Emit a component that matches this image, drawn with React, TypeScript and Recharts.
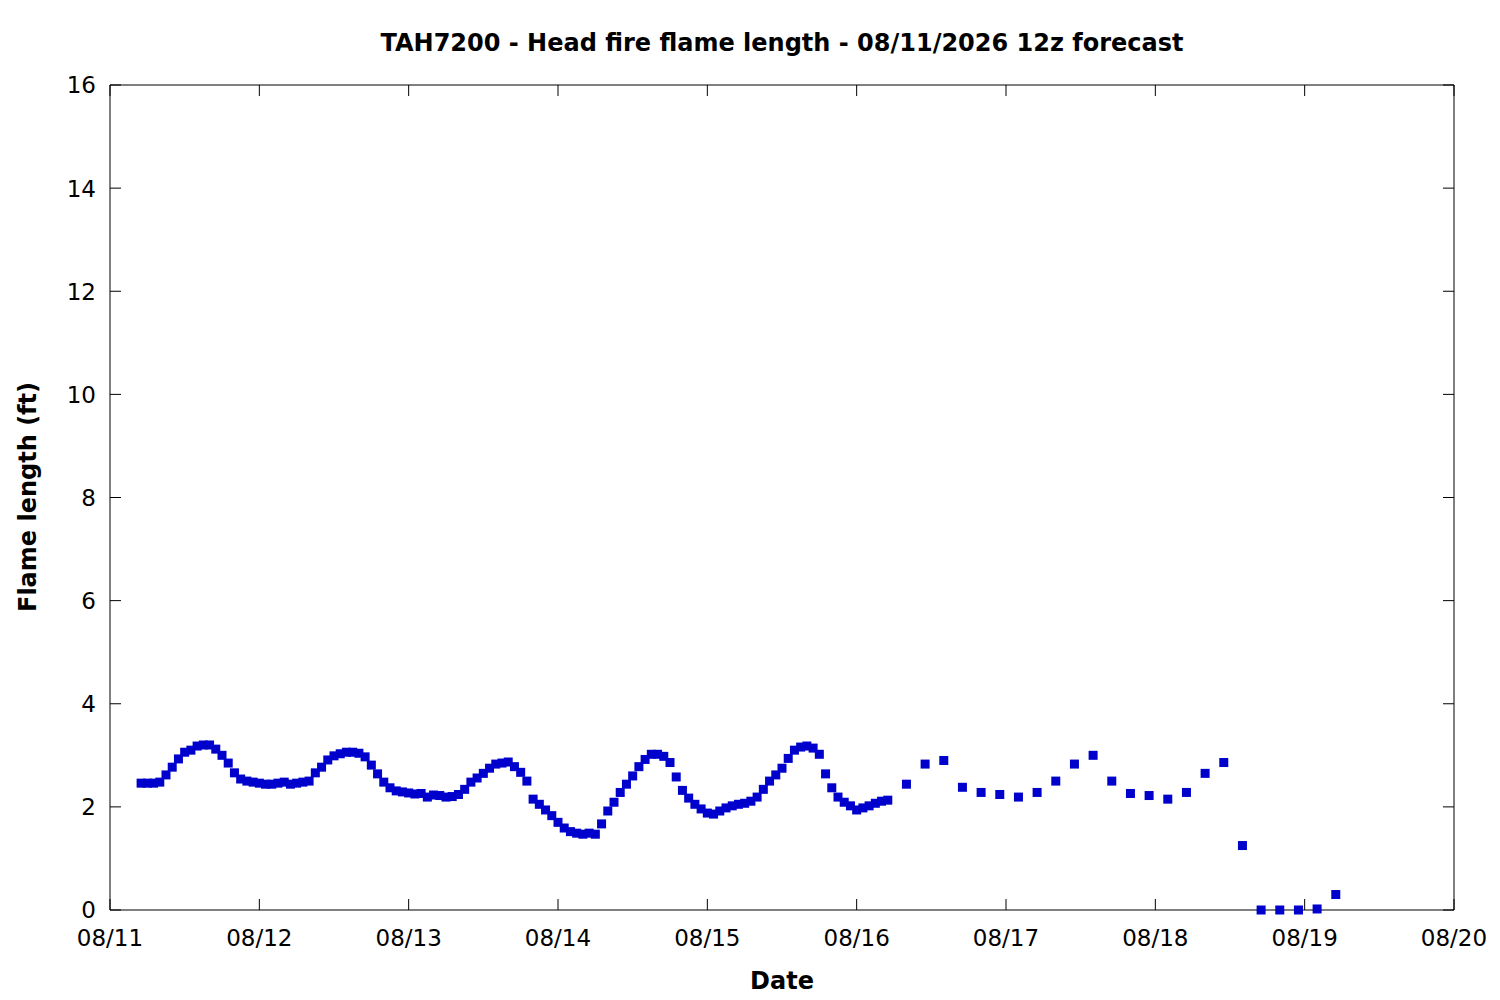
import { ScatterChart, Scatter, XAxis, YAxis } from 'recharts';

// hours counted from 08/11 00:00 local
const hourlyStart = 5;
const hourlyFlame = [
  2.46, 2.46, 2.46, 2.48, 2.62, 2.77, 2.93, 3.06, 3.1, 3.18, 3.2, 3.2,
  3.12, 3.0, 2.85, 2.66, 2.54, 2.5, 2.48, 2.46, 2.44, 2.44, 2.46, 2.48,
  2.44, 2.46, 2.48, 2.5, 2.66, 2.77, 2.91, 2.99, 3.03, 3.06, 3.06, 3.04,
  2.97, 2.81, 2.64, 2.48, 2.37, 2.31, 2.29, 2.27, 2.25, 2.26, 2.19, 2.23,
  2.22, 2.19, 2.2, 2.24, 2.34, 2.48, 2.56, 2.65, 2.75, 2.83, 2.85, 2.87,
  2.78, 2.67, 2.5, 2.15, 2.05, 1.94, 1.83, 1.7, 1.59, 1.52, 1.49, 1.47,
  1.49, 1.47, 1.67, 1.92, 2.09, 2.28, 2.44, 2.6, 2.78, 2.92, 3.02, 3.02,
  2.98, 2.86, 2.58, 2.32, 2.17, 2.05, 1.96, 1.88, 1.86, 1.92, 1.98, 2.02,
  2.05, 2.07, 2.11, 2.19, 2.34, 2.5, 2.62, 2.75, 2.94, 3.1, 3.16, 3.18,
  3.14, 3.02, 2.64, 2.37, 2.19, 2.09, 2.02, 1.94, 1.98, 2.02, 2.07, 2.11,
  2.13,
];
const threeHourStart = 128;
const threeHourFlame = [
  2.44, 2.83, 2.9, 2.38, 2.28, 2.24, 2.19, 2.28, 2.5, 2.83, 3.0, 2.5,
  2.26, 2.22, 2.15, 2.28, 2.65, 2.86, 1.25, 0, 0, 0, 0.02, 0.3,
];
const dayLabels = ['08/11', '08/12', '08/13', '08/14', '08/15', '08/16', '08/17', '08/18', '08/19', '08/20'];
const yTicks = [0, 2, 4, 6, 8, 10, 12, 14, 16];

const data = [
  ...hourlyFlame.map((v, i) => ({ t: hourlyStart + i, flame: v })),
  ...threeHourFlame.map((v, i) => ({ t: threeHourStart + 3 * i, flame: v })),
];
const xTicks = dayLabels.map((_, i) => i * 24);

const W = 1500;
const H = 1000;
const FONT = '"DejaVu Sans", sans-serif';
const TICK = 11;
const BLUE = '#0000cc';

function BottomTick(props: any) {
  const { x, y, payload } = props;
  return (
    <g>
      <line x1={x} x2={x} y1={y} y2={y - TICK} stroke="#000" />
      <text x={x} y={y + 36} textAnchor="middle" fontSize={23} fontFamily={FONT} fill="#000">
        {dayLabels[xTicks.indexOf(payload.value)]}
      </text>
    </g>
  );
}

function TopTick(props: any) {
  const { x, y } = props;
  return <line x1={x} x2={x} y1={y} y2={y + TICK} stroke="#000" />;
}

function LeftTick(props: any) {
  const { x, y, payload } = props;
  return (
    <g>
      <line x1={x} x2={x + TICK} y1={y} y2={y} stroke="#000" />
      <text x={x - 14} y={y + 8.4} textAnchor="end" fontSize={23} fontFamily={FONT} fill="#000">
        {payload.value}
      </text>
    </g>
  );
}

function RightTick(props: any) {
  const { x, y } = props;
  return <line x1={x} x2={x - TICK} y1={y} y2={y} stroke="#000" />;
}

function Square(props: any) {
  const { cx, cy } = props;
  return <rect x={cx - 4.5} y={cy - 4.5} width={9} height={9} fill={BLUE} />;
}

export default function App() {
  const axisLine = { stroke: '#000', strokeWidth: 1 };
  return (
    <div style={{ position: 'absolute', left: 0, top: 0, width: W, height: H, background: '#fff' }}>
      <ScatterChart width={W} height={H} margin={{ top: 84, right: 45, bottom: 0, left: 0 }}>
        <XAxis
          xAxisId="bottom"
          type="number"
          dataKey="t"
          domain={[0, 216]}
          ticks={xTicks}
          height={90}
          axisLine={axisLine}
          tickLine={false}
          tickSize={0}
          tickMargin={0}
          tick={<BottomTick />}
          interval={0}
        />
        <XAxis
          xAxisId="top"
          orientation="top"
          type="number"
          dataKey="t"
          domain={[0, 216]}
          ticks={xTicks}
          height={1}
          axisLine={axisLine}
          tickLine={false}
          tickSize={0}
          tickMargin={0}
          tick={<TopTick />}
          interval={0}
        />
        <YAxis
          yAxisId="left"
          type="number"
          dataKey="flame"
          domain={[0, 16]}
          ticks={yTicks}
          width={110}
          axisLine={axisLine}
          tickLine={false}
          tickSize={0}
          tickMargin={0}
          tick={<LeftTick />}
          interval={0}
        />
        <YAxis
          yAxisId="right"
          orientation="right"
          type="number"
          dataKey="flame"
          domain={[0, 16]}
          ticks={yTicks}
          width={1}
          axisLine={axisLine}
          tickLine={false}
          tickSize={0}
          tickMargin={0}
          tick={<RightTick />}
          interval={0}
        />
        <Scatter
          xAxisId="top"
          yAxisId="right"
          data={data}
          shape={() => <g />}
          isAnimationActive={false}
        />
        <Scatter
          xAxisId="bottom"
          yAxisId="left"
          data={data}
          fill={BLUE}
          shape={<Square />}
          isAnimationActive={false}
        />
      </ScatterChart>
      <svg
        width={W}
        height={H}
        style={{ position: 'absolute', left: 0, top: 0, pointerEvents: 'none' }}
        fontFamily={FONT}
        fontWeight="bold"
      >
        <text x={782} y={51} textAnchor="middle" fontSize={24}>
          TAH7200 - Head fire flame length - 08/11/2026 12z forecast
        </text>
        <text x={36} y={497} textAnchor="middle" fontSize={24} transform="rotate(-90 36 497)">
          Flame length (ft)
        </text>
        <text x={782} y={989} textAnchor="middle" fontSize={24}>
          Date
        </text>
      </svg>
    </div>
  );
}
